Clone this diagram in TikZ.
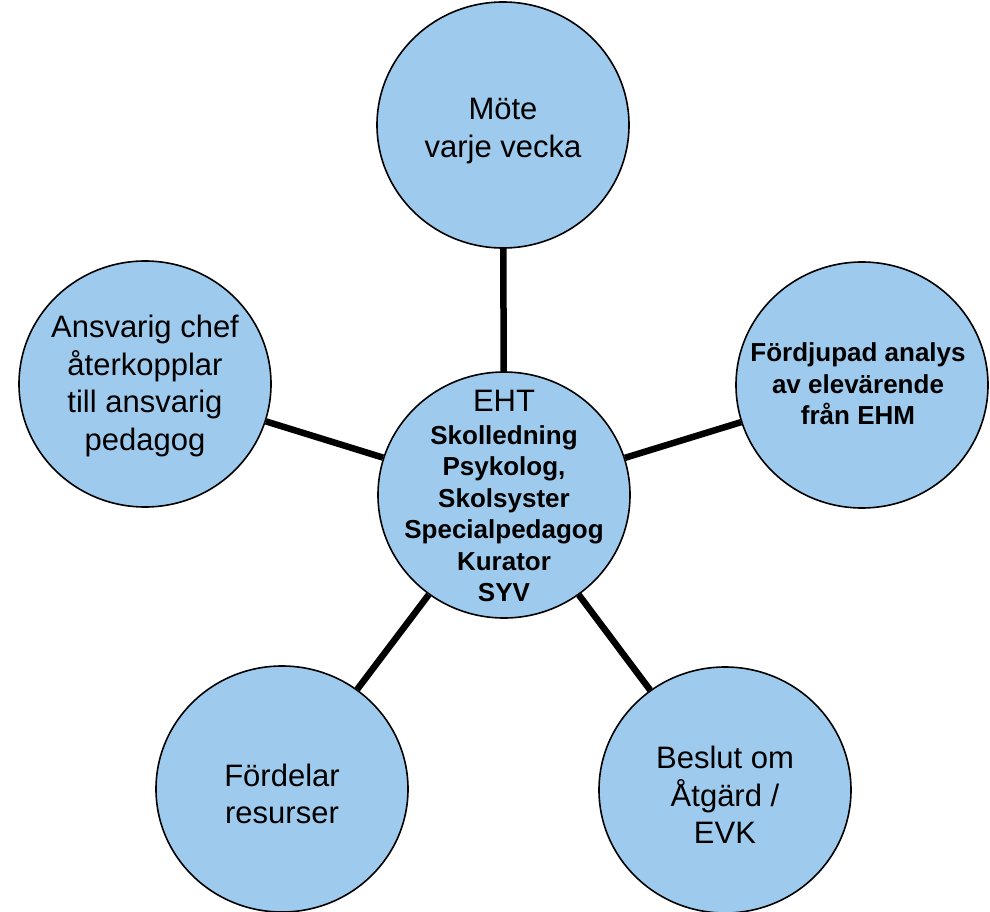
\documentclass[tikz,border=0pt]{standalone}
\usepackage{fontspec}
\setmainfont{Liberation Sans}
\usetikzlibrary{shapes.geometric}
\definecolor{bubblefill}{RGB}{158,203,237}
\begin{document}
\begin{tikzpicture}[x=1pt,y=-1pt,
  bubble/.style={ellipse,draw=black,line width=1.6pt,fill=bubblefill,
    minimum width=252pt,minimum height=246pt,inner sep=0pt},
  txt/.style={align=center,inner sep=0pt,font=\fontsize{31}{37.5}\selectfont},
  boldtxt/.style={align=center,inner sep=0pt,font=\fontsize{26}{31.5}\selectfont\bfseries},
  conn/.style={line width=6.5pt,draw=black}]
\useasboundingbox (0,0) rectangle (990,912);
\node[bubble] (top) at (503,125) {};
\node[bubble] (left) at (145,384) {};
\node[bubble] (right) at (862,385) {};
\node[bubble] (ctr) at (504,495) {};
\node[bubble] (bl) at (282,789) {};
\node[bubble] (br) at (725,790) {};
\draw[conn] (ctr) -- (top);
\draw[conn] (ctr) -- (left);
\draw[conn] (ctr) -- (right);
\draw[conn] (ctr) -- (bl);
\draw[conn] (ctr) -- (br);
\node[txt] (toptxt) at (503,131) {Möte\\varje vecka};
\node[txt] (lefttxt) at (145,386) {Ansvarig chef\\återkopplar\\till ansvarig\\pedagog};
\node[boldtxt] (righttxt) at (858,384) {Fördjupad analys\\av elevärende\\från EHM};
\node[txt] (blttxt) at (282,794) {Fördelar\\resurser};
\node[txt] (brtxt) at (725,795) {Beslut om\\Åtgärd /\\EVK};
\node[boldtxt] (ctrtxt) at (504,496)
  {{\fontsize{31}{34}\selectfont\mdseries EHT}\\[1pt]Skolledning\\Psykolog,\\Skolsyster\\Specialpedagog\\Kurator\\SYV};
\end{tikzpicture}
\end{document}
